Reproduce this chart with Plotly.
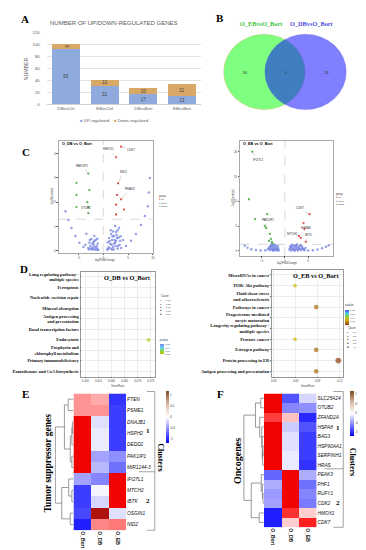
import plotly.graph_objects as go
import math

W, H = 366, 550
SANS = "Liberation Sans"
SERIF = "Liberation Serif"

# ---------------- Panel A data ----------------
comparisons = ["DBvsCtrl", "EBvsCtrl", "DBvsBort", "EBvsBort"]
up_regulated = [93, 31, 17, 13]
down_regulated = [8, 10, 10, 21]
a_yticks = [0, 20, 40, 60, 80, 100, 120]

# ---------------- Panel B data ----------------
venn_sets = ["O_EBvsO_Bort", "O_DBvsO_Bort"]
venn_only = [30, 23]
venn_shared = 4

# ---------------- Panel C data ----------------
pvalue_cutoff = 0.05
db_none_fc = [-3.0, -2.6, -2.2, -2.0, -1.8, -1.6, -2.4, -2.8, -1.4, -1.8, 1.0, 1.4, 1.8, 2.0, 2.2,
              2.4, 2.6, 2.8, 3.0, 3.2, 3.4, 1.6, 1.2, 3.6, 2.4, -7.6, -7.0, -6.4, -5.6, -4.8, -4.0,
              4.6, 5.6, 6.6, 7.6, 8.4, 9.0, 9.2, 9.4, -1.2, -1.0, 0.8, -3.4, -3.6, 4.0,
              -2.9, -2.5, -2.1, -1.7, -1.3, -1.1, -1.5, -2.3, -2.7, -1.9, -1.2, -2.0,
              1.1, 1.3, 1.5, 1.7, 1.9, 2.1, 2.3, 2.5, 2.7, 2.9, 3.1, 3.3, 1.5, 2.0, 2.9, 3.5, 0.9, 1.8, 2.2, 2.6]
db_none_nlp = [0.12, 0.20, 0.29, 0.08, 0.41, 0.16, 0.49, 0.33, 0.04, 0.61, 0.08, 0.29, 0.45, 0.16, 0.61,
               0.33, 0.78, 0.53, 0.20, 0.94, 0.41, 0.69, 0.53, 0.12, 1.02, 1.63, 1.27, 0.94, 0.61, 0.33, 0.16,
               0.20, 0.41, 0.69, 1.06, 1.43, 1.84, 2.40, 3.00, 0.10, 0.03, 0.05, 0.70, 0.25, 0.45,
               0.05, 0.10, 0.15, 0.05, 0.20, 0.30, 0.45, 0.05, 0.45, 0.25, 0.50, 0.35,
               0.15, 0.40, 0.10, 0.25, 0.60, 0.05, 0.45, 0.20, 0.65, 0.10, 0.55, 0.25, 0.85, 0.80, 0.85, 0.60, 0.35, 0.05, 0.30, 0.40]
db_up_fc = [3.6, 2.6, 3.0, 3.6, 2.6, 2.6, 2.8, 4.2]
db_up_nlp = [4.29, 3.85, 2.78, 2.12, 1.50, 1.90, 2.30, 1.70]
db_up_gene = ["CDK7", "HMOX1", "NID2", "PEAK3", "", "", "", ""]
db_down_fc = [-3.0, -3.0, -3.0, -3.2, -2.8, -5.4, -5.4, -5.4]
db_down_nlp = [3.18, 1.55, 1.80, 2.00, 2.50, 1.80, 2.30, 2.80]
db_down_gene = ["PAK1IP1", "OTUB2", "", "", "", "", "", ""]

eb_none_fc = [-8.6, -8.0, -7.2, -6.2, -5.2, -4.2, -3.4, -3.0, -2.8, -2.4, -2.2, -2.0, -1.8, -1.5, -1.3,
              -2.6, 1.0, 1.3, 1.6, 1.8, 2.0, 2.3, 2.6, 2.9, 3.2, 3.5, 3.8, 4.2, 5.0, 6.0, 7.0, 8.0, 8.8, 9.4,
              -3.6, -3.2, -3.0, -2.7, -2.5, -2.3, -2.1, -1.9, -1.7, -1.6, -1.4, -2.9, -2.4, -3.3,
              1.1, 1.4, 1.5, 1.7, 1.9, 2.1, 2.2, 2.4, 2.5, 2.7, 2.8, 3.0, 3.3, 3.4, 3.7, 4.0, 4.4, 1.2]
eb_none_nlp = [1.0, 0.6, 0.3, 0.15, 0.05, 0.1, 0.5, 1.0, 0.3, 0.7, 1.2, 0.2, 0.6, 0.9, 0.1,
               0.05, 0.2, 0.8, 0.4, 1.1, 0.1, 0.6, 1.25, 0.3, 0.9, 0.15, 0.5, 0.1, 0.05, 0.1, 0.25, 0.5, 0.8, 1.1,
               0.3, 0.15, 0.6, 0.9, 0.35, 0.05, 0.5, 1.0, 0.3, 0.05, 0.45, 1.3, 1.1, 0.8,
               0.5, 0.05, 1.2, 0.6, 0.25, 0.9, 0.05, 1.05, 0.35, 0.8, 0.05, 0.6, 0.35, 1.1, 0.8, 0.3, 0.55, 0.9]
eb_up_fc = [5.3, 4.0, 3.0, 4.5, 3.4, 4.2]
eb_up_nlp = [7.4, 5.6, 3.0, 1.8, 2.6, 4.4]
eb_up_gene = ["CDK7", "HSPA8", "MTCH2", "IBTK", "", ""]
eb_down_fc = [-7.0, -7.7, -6.4, -4.3, -3.8, -4.0, -3.2, -3.0, -2.8, -3.4, -2.6]
eb_down_nlp = [20.0, 10.4, 6.4, 5.0, 7.4, 4.6, 3.4, 2.4, 1.8, 2.0, 1.5]
eb_down_gene = ["IFI27L1", "", "", "PAK1IP1", "", "", "", "", "", "", ""]

# ---------------- Panel D data ----------------
d1_pathways = ["Long regulating pathway - multiple species", "Ferroptosis", "Nucleotide excision repair",
               "Mineral absorption", "Antigen processing and presentation", "Basal transcription factors",
               "Endocytosis", "Porphyrin and chlorophyll metabolism", "Primary immunodeficiency",
               "Pantothenate and CoA biosynthesis"]
d1_hit = ["Endocytosis"]
d1_ratio = [0.0741]
d1_count = [2]
d1_pvalue = [0.022]
d1_xticks = [0.050, 0.055, 0.060, 0.065, 0.070, 0.075]
d1_count_breaks = ["1.00", "1.25", "1.50", "1.75", "2.00"]

d2_pathways = ["MicroRNAs in cancer", "PI3K-Akt pathway", "Fluid shear stress and atherosclerosis",
               "Pathways in cancer", "Progesterone-mediated oocyte maturation",
               "Longevity regulating pathway - multiple species", "Prostate cancer", "Estrogen pathway",
               "Protein processing in ER", "Antigen processing and presentation"]
d2_hit = ["PI3K-Akt pathway", "Pathways in cancer", "Prostate cancer", "Estrogen pathway",
          "Protein processing in ER", "Antigen processing and presentation"]
d2_ratio = [0.059, 0.088, 0.059, 0.088, 0.118, 0.088]
d2_count = [2, 3, 2, 3, 4, 3]
d2_pvalue = [0.030, 0.012, 0.030, 0.012, 0.002, 0.012]
d2_xticks = [0.03, 0.06, 0.09, 0.12]
d2_count_breaks = ["2.0", "2.5", "3.0", "3.5", "4.0"]

# ---------------- Panel E / F data ----------------
heat_samples = ["O_Bort", "O_DB", "O_EB"]
tsg_genes = ["PTEN", "PSME1", "DNAJB1", "HSPH2", "DEDD2", "PAK1IP1", "MIR1244-3",
             "IFI27L1", "MTCH2", "IBTK", "OSGIN1", "NID2"]
tsg_values = [[0.45, 0.35, -1.00], [0.45, 0.45, -0.95], [1.08, -0.15, -0.95], [1.08, -0.10, -0.95],
              [1.08, -0.10, -0.95], [1.08, -0.45, -0.55], [1.08, -0.35, -0.70], [-0.45, -0.60, 1.08],
              [-0.95, -0.05, 1.08], [-0.95, -0.20, 1.08], [-0.90, 1.22, -0.15], [-1.10, 0.50, 0.55]]
tsg_links = [(2, 3, 1.0), (12, 4, 1.5), (5, 6, 1.5), (13, 14, 3.0), (0, 1, 5.0), (16, 15, 8.5),
             (8, 9, 1.5), (7, 18, 4.5), (10, 11, 3.0), (19, 20, 11.0), (17, 21, 17.0)]
tsg_clusters = ["1", "2"]

onc_genes = ["SLC25A24", "OTUB2", "ZFAND2A", "HSPA8", "BAG3", "HSP90AA1", "SERPINH1", "HRAS",
             "PEAK3", "PHF1", "RUFY1", "CDK2", "HMOX1", "CDK7"]
onc_values = [[1.08, -0.85, -0.20], [1.08, -0.60, -0.55], [0.80, 0.25, -1.05], [1.08, -0.25, -0.85],
              [1.08, -0.15, -0.95], [1.08, -0.15, -0.95], [1.08, -0.10, -0.95], [1.08, -0.10, -1.00],
              [-0.75, 1.08, -0.40], [-0.40, 1.08, -0.70], [-0.50, 1.08, -0.60], [-0.45, 1.08, -0.65],
              [-1.10, 0.85, 0.20], [-1.10, 0.20, 0.92]]
onc_links = [(5, 6, 0.8), (14, 7, 1.2), (4, 15, 1.6), (3, 16, 2.0), (0, 1, 3.0), (2, 17, 4.0),
             (18, 19, 8.0), (10, 11, 0.8), (9, 21, 1.4), (8, 22, 2.5), (12, 13, 4.5), (23, 24, 12.0),
             (20, 25, 19.0)]
onc_clusters = ["1", "2"]
heat_ticks = [-1, -0.5, 0, 0.5, 1]

# ---------------- helpers ----------------
def xdom(a, b):
    return [a / W, b / W]

def ydom(top, bottom):
    return [1 - bottom / H, 1 - top / H]

annotations = []
shapes = []

def ann(x, y, text, size, color="#000", family=SANS, xanchor="center", yanchor="middle",
        angle=0, weight="normal", style="normal"):
    annotations.append(dict(x=x / W, y=1 - y / H, xref="paper", yref="paper", text=text,
                            showarrow=False, xanchor=xanchor, yanchor=yanchor, textangle=angle,
                            font=dict(size=size, color=color, family=family, weight=weight, style=style)))

def pline(x0, y0, x1, y1, color="#666", width=0.6):
    shapes.append(dict(type="line", xref="paper", yref="paper", x0=x0 / W, x1=x1 / W,
                       y0=1 - y0 / H, y1=1 - y1 / H, line=dict(color=color, width=width)))

def dendro_lines(n, links):
    pos = {i: float(i) for i in range(n)}
    hgt = {i: 0.0 for i in range(n)}
    xs, ys = [], []
    for k, (a, b, h) in enumerate(links):
        node = n + k
        xs += [hgt[a], h, h, hgt[b], None]
        ys += [pos[a], pos[a], pos[b], pos[b], None]
        pos[node] = (pos[a] + pos[b]) / 2
        hgt[node] = h
    return xs, ys

fig = go.Figure()
axes = {}

# ---------------- Panel A ----------------
UP_C, DOWN_C = "#8FAADC", "#D9A867"
fig.add_trace(go.Bar(x=comparisons, y=up_regulated, marker=dict(color=UP_C, line=dict(width=0)),
                     text=up_regulated, textposition="inside", insidetextanchor="middle",
                     textfont=dict(size=4.5, color="#404040", family=SANS),
                     xaxis="x", yaxis="y", showlegend=False, hoverinfo="skip"))
fig.add_trace(go.Bar(x=comparisons, y=down_regulated, marker=dict(color=DOWN_C, line=dict(width=0)),
                     text=down_regulated, textposition="inside", insidetextanchor="middle",
                     textfont=dict(size=4.5, color="#404040", family=SANS),
                     xaxis="x", yaxis="y", showlegend=False, hoverinfo="skip"))
axes["xaxis"] = dict(domain=xdom(38, 194), anchor="y", type="category", showline=True,
                     linecolor="#d0d0d0", linewidth=0.7, ticks="", showgrid=False,
                     tickfont=dict(size=4.3, color="#595959", family=SANS))
axes["yaxis"] = dict(domain=ydom(23, 95), anchor="x", range=[0, 120], tickvals=a_yticks,
                     gridcolor="#e2e2e2", gridwidth=0.5, zeroline=False, showline=False, ticks="",
                     ticklabelstandoff=6, tickfont=dict(size=4.3, color="#595959", family=SANS))
ann(106, 13, "NUMBER OF UP/DOWN-REGULATED GENES", 6, color="#595959")
ann(18, 59, "NUMBER", 5.2, color="#595959", angle=-90)
ann(106, 112, "<span style='color:%s'>■</span> UP-regulated&nbsp;&nbsp;&nbsp;&nbsp;"
              "<span style='color:%s'>■</span> Down-regulated" % (UP_C, DOWN_C), 4.3, color="#595959")

# ---------------- Panel B ----------------
venn_c = [(52.5, 47.5), (94.0, 47.5)]
venn_r = (41, 38)
shapes.append(dict(type="circle", xref="x2", yref="y2", x0=venn_c[0][0] - venn_r[0], x1=venn_c[0][0] + venn_r[0],
                   y0=venn_c[0][1] - venn_r[1], y1=venn_c[0][1] + venn_r[1], fillcolor="rgba(0,255,0,0.5)",
                   line=dict(color="rgba(210,170,90,0.7)", width=0.5), layer="below"))
shapes.append(dict(type="circle", xref="x2", yref="y2", x0=venn_c[1][0] - venn_r[0], x1=venn_c[1][0] + venn_r[0],
                   y0=venn_c[1][1] - venn_r[1], y1=venn_c[1][1] + venn_r[1], fillcolor="rgba(0,0,255,0.5)",
                   line=dict(color="rgba(90,90,230,0.7)", width=0.5), layer="below"))
fig.add_trace(go.Scatter(x=[33, 74, 115], y=[46, 46, 46], mode="text",
                         text=[str(venn_only[0]), str(venn_shared), str(venn_only[1])],
                         textfont=dict(size=4, color="#333", family=SANS),
                         xaxis="x2", yaxis="y2", showlegend=False, hoverinfo="skip"))
axes["xaxis2"] = dict(domain=xdom(205, 355), anchor="y2", range=[0, 150], visible=False)
axes["yaxis2"] = dict(domain=ydom(15, 110), anchor="x2", range=[0, 95], visible=False)
ann(255, 14, venn_sets[0], 6.3, color="#3cc23c", family=SERIF, weight="bold")
ann(306, 14, venn_sets[1], 6.3, color="#4a4ae0", family=SERIF, weight="bold")

# ---------------- Panel C ----------------
nlp_cut = -math.log10(pvalue_cutoff)
C_UP, C_NONE, C_DOWN = "#e41a1c", "#6677dd", "#33a02c"

def volcano(xa, ya, none_fc, none_nlp, up_fc, up_nlp, up_gene, dn_fc, dn_nlp, dn_gene, offsets):
    fig.add_trace(go.Scatter(x=none_fc, y=none_nlp, mode="markers",
                             marker=dict(size=2.5, color=C_NONE, opacity=0.7, line=dict(width=0)),
                             xaxis=xa, yaxis=ya, showlegend=False, hoverinfo="skip"))
    fig.add_trace(go.Scatter(x=up_fc, y=up_nlp, mode="markers",
                             marker=dict(size=2.3, color=C_UP, opacity=0.8, line=dict(width=0)),
                             xaxis=xa, yaxis=ya, showlegend=False, hoverinfo="skip"))
    fig.add_trace(go.Scatter(x=dn_fc, y=dn_nlp, mode="markers",
                             marker=dict(size=2.3, color=C_DOWN, opacity=0.8, line=dict(width=0)),
                             xaxis=xa, yaxis=ya, showlegend=False, hoverinfo="skip"))
    for fcs, nlps, genes in ((up_fc, up_nlp, up_gene), (dn_fc, dn_nlp, dn_gene)):
        for fc, nl, g in zip(fcs, nlps, genes):
            if g:
                ax, ay = offsets[g]
                annotations.append(dict(x=fc, y=nl, xref=xa, yref=ya, text=g, showarrow=True,
                                        arrowhead=0, arrowwidth=0.4, arrowcolor="#999", ax=ax, ay=ay,
                                        standoff=0, font=dict(size=3, color="#333", family=SANS)))
    shapes.append(dict(type="line", xref=xa, yref=ya + " domain", x0=0, x1=0, y0=0, y1=1,
                       line=dict(color="#999", width=0.4, dash="dash")))
    shapes.append(dict(type="line", xref=xa + " domain", yref=ya, x0=0, x1=1, y0=nlp_cut, y1=nlp_cut,
                       line=dict(color="#999", width=0.4, dash="dash")))

volcano("x3", "y3", db_none_fc, db_none_nlp, db_up_fc, db_up_nlp, db_up_gene,
        db_down_fc, db_down_nlp, db_down_gene,
        {"CDK7": (10, 3), "HMOX1": (-8, -8), "NID2": (5, -11), "PEAK3": (9, -10),
         "PAK1IP1": (-6, -8), "OTUB2": (-2, -5)})
volcano("x4", "y4", eb_none_fc, eb_none_nlp, eb_up_fc, eb_up_nlp, eb_up_gene,
        eb_down_fc, eb_down_nlp, eb_down_gene,
        {"CDK7": (-10, -6), "HSPA8": (3, 5), "MTCH2": (-6, -2), "IBTK": (3, -7),
         "IFI27L1": (6, 8), "PAK1IP1": (3, -6)})

vol_ax = dict(ticks="outside", ticklen=1.5, tickwidth=0.4, tickcolor="#555",
              tickfont=dict(size=3, color="#444", family=SANS), showline=True, mirror=True,
              linecolor="#aaa", linewidth=0.5, showgrid=False, zeroline=False, ticklabelstandoff=0)
axes["xaxis3"] = dict(domain=xdom(50, 145), anchor="y3", range=[-9, 10], tickvals=[-5, 0, 5, 10], **vol_ax)
axes["yaxis3"] = dict(domain=ydom(132, 245), anchor="x3", range=[-0.08, 4.53], tickvals=[0, 1, 2, 3, 4], **vol_ax)
axes["xaxis4"] = dict(domain=xdom(233, 327), anchor="y4", range=[-9.6, 10.4], tickvals=[-5, 0, 5], **vol_ax)
axes["yaxis4"] = dict(domain=ydom(132, 248), anchor="x4", range=[-1.0, 22.2], tickvals=[0, 5, 10, 15, 20], **vol_ax)

ann(51, 135, "O_DB vs O_Bort", 3.8, xanchor="left", weight="bold")
ann(234, 135, "O_EB vs O_Bort", 3.8, xanchor="left", weight="bold")
ann(97, 252.5, "log2FoldChange", 2.7, color="#444")
ann(280, 255.5, "log2FoldChange", 2.7, color="#444")
ann(44, 188, "-log10(pvalue)", 2.7, color="#444", angle=-90)
ann(226, 190, "-log10(pvalue)", 2.7, color="#444", angle=-90)
for lx, ly in ((149, 188), (328, 186)):
    ann(lx, ly, "group", 2.6, xanchor="left", color="#333")
    ann(lx, ly + 3.6, "<span style='color:%s'>●</span> up" % C_UP, 2.5, xanchor="left", color="#333")
    ann(lx, ly + 7.0, "<span style='color:%s'>●</span> none" % C_NONE, 2.5, xanchor="left", color="#333")
    ann(lx, ly + 10.4, "<span style='color:%s'>●</span> down" % C_DOWN, 2.5, xanchor="left", color="#333")

# ---------------- Panel D ----------------
wrap = {"Long regulating pathway - multiple species": "Long regulating pathway -<br>multiple species",
        "Longevity regulating pathway - multiple species": "Longevity regulating pathway -<br>multiple species",
        "Antigen processing and presentation": "Antigen processing<br>and presentation",
        "Porphyrin and chlorophyll metabolism": "Porphyrin and<br>chlorophyll metabolism",
        "Fluid shear stress and atherosclerosis": "Fluid shear stress<br>and atherosclerosis",
        "Progesterone-mediated oocyte maturation": "Progesterone-mediated<br>oocyte maturation"}
d2_wrap = dict(wrap)
d2_wrap.pop("Antigen processing and presentation")
d1_scale = [[0, "#c2c400"], [0.35, "#7fd657"], [0.65, "#62d2f4"], [1, "#8a7cf5"]]
d2_scale = [[0, "#8b3a0f"], [0.35, "#d8b412"], [0.6, "#7fd34e"], [0.8, "#40c4f0"], [1, "#4a4aff"]]

def dsize(c):
    return 2.0 + 0.9 * c

fig.add_trace(go.Scatter(x=d1_ratio, y=d1_hit, mode="markers",
                         marker=dict(size=[dsize(c) for c in d1_count], color=d1_pvalue, colorscale=d1_scale,
                                     cmin=0.02, cmax=0.05, showscale=True, line=dict(width=0),
                                     colorbar=dict(x=152 / W, xanchor="left", y=1 - 338 / H, yanchor="middle",
                                                   len=19, lenmode="pixels", thickness=4, thicknessmode="pixels",
                                                   xpad=0, ypad=0, outlinewidth=0, ticks="", nticks=4,
                                                   title=dict(text="pvalue", side="top", font=dict(size=2.8)),
                                                   tickfont=dict(size=2.5))),
                         xaxis="x5", yaxis="y5", showlegend=False, hoverinfo="skip"))
fig.add_trace(go.Scatter(x=d2_ratio, y=d2_hit, mode="markers",
                         marker=dict(size=[dsize(c) for c in d2_count], color=d2_pvalue, colorscale=d2_scale,
                                     cmin=0.001, cmax=0.08, showscale=True, line=dict(width=0),
                                     colorbar=dict(x=339 / W, xanchor="left", y=1 - 306 / H, yanchor="middle",
                                                   len=24, lenmode="pixels", thickness=4, thicknessmode="pixels",
                                                   xpad=0, ypad=0, outlinewidth=0, ticks="", nticks=5,
                                                   title=dict(text="pvalue", side="top", font=dict(size=2.8)),
                                                   tickfont=dict(size=2.5))),
                         xaxis="x6", yaxis="y6", showlegend=False, hoverinfo="skip"))

dot_ax = dict(showline=True, mirror=True, linecolor="#999", linewidth=0.5, gridcolor="#ececec",
              gridwidth=0.4, zeroline=False, ticks="outside", ticklen=1, tickwidth=0.4, tickcolor="#666")
axes["xaxis5"] = dict(domain=xdom(73, 147), anchor="y5", range=[0.0485, 0.0765], tickvals=d1_xticks,
                      ticktext=["%.3f" % v for v in d1_xticks], tickfont=dict(size=2.8, color="#444"), **dot_ax)
axes["yaxis5"] = dict(domain=ydom(264, 370), anchor="x5", type="category", categoryorder="array",
                      categoryarray=d1_pathways[::-1], range=[-0.5, 9.5], tickvals=d1_pathways,
                      ticktext=[wrap.get(p, p) for p in d1_pathways],
                      tickfont=dict(size=4.4, color="#111", family=SERIF, weight="bold"), **dot_ax)
axes["xaxis6"] = dict(domain=xdom(265, 337), anchor="y6", range=[0.0275, 0.1248], tickvals=d2_xticks,
                      ticktext=["%.2f" % v for v in d2_xticks], tickfont=dict(size=2.8, color="#444"), **dot_ax)
axes["yaxis6"] = dict(domain=ydom(262, 370), anchor="x6", type="category", categoryorder="array",
                      categoryarray=d2_pathways[::-1], range=[-0.5, 9.5], tickvals=d2_pathways,
                      ticktext=[d2_wrap.get(p, p) for p in d2_pathways],
                      tickfont=dict(size=4.4, color="#111", family=SERIF, weight="bold"), **dot_ax)
ann(145, 270, "O_DB vs O_Bort", 6.3, xanchor="right", family=SERIF, weight="bold")
ann(335, 268, "O_EB vs O_Bort", 6.3, xanchor="right", family=SERIF, weight="bold")
ann(110, 379, "GeneRatio", 2.8, color="#444")
ann(301, 379, "GeneRatio", 2.8, color="#444")

def count_legend(x, y, labels, sizes, step):
    ann(x, y, "Count", 2.8, xanchor="left", color="#333")
    for i, (lab, s) in enumerate(zip(labels, sizes)):
        ann(x + 2, y + 4 + i * step, "●", s, color="#111")
        ann(x + 5, y + 4 + i * step, lab, 2.3, xanchor="left", color="#333")

count_legend(151, 289, d1_count_breaks, [1.8, 2.1, 2.4, 2.7, 3.0], 3.5)
count_legend(340, 321, d2_count_breaks, [2.0, 2.3, 2.6, 2.9, 3.2], 3.8)

# ---------------- Panel E / F ----------------
heat_scale = [[0, "#0000ff"], [0.5, "#ffffff"], [0.92, "#ff0000"], [1, "#a0150f"]]
bar_scale = [[0, "#0000ff"], [0.5, "#ffffff"], [0.75, "#dcb8a6"], [1, "#7a4a1e"]]

def heat_block(xa, ya, xd, genes, values, links, cb_x, cb_y, cb_len, cb_thick, dom_x, dom_y, d_dom_x):
    yd = "y" + xd[1:]
    xs, ys = dendro_lines(len(genes), links)
    fig.add_trace(go.Scatter(x=xs, y=ys, mode="lines", line=dict(color="#707070", width=0.7),
                             connectgaps=False, xaxis=xd, yaxis=yd, showlegend=False, hoverinfo="skip"))
    fig.add_trace(go.Heatmap(z=values, x=heat_samples, y=genes, colorscale=heat_scale, zmin=-1.25, zmax=1.25,
                             showscale=False, xaxis=xa, yaxis=ya, hoverinfo="skip"))
    fig.add_trace(go.Scatter(x=[None], y=[None], mode="markers",
                             marker=dict(color=[0], colorscale=bar_scale, cmin=-1.18, cmax=1.18, showscale=True,
                                         colorbar=dict(x=cb_x / W, xanchor="left", y=1 - cb_y / H,
                                                       yanchor="middle", len=cb_len, lenmode="pixels",
                                                       thickness=cb_thick, thicknessmode="pixels", xpad=0,
                                                       ypad=0, outlinewidth=0, ticks="", tickvals=heat_ticks,
                                                       ticktext=[("%g" % v) for v in heat_ticks],
                                                       tickfont=dict(size=3, color="#333"))),
                             xaxis=xa, yaxis=ya, showlegend=False, hoverinfo="skip"))
    root = links[-1][2]
    axes["xaxis" + xa[1:]] = dict(domain=dom_x, anchor=ya, type="category", tickangle=90, ticks="",
                                  showgrid=False, zeroline=False,
                                  tickfont=dict(size=5, color="#111", family=SANS, weight="bold"))
    axes["yaxis" + ya[1:]] = dict(domain=dom_y, anchor=xa, autorange="reversed", side="right", ticks="",
                                  showgrid=False, zeroline=False,
                                  tickfont=dict(size=4.8, color="#111", family=SANS, style="italic"))
    axes["xaxis" + xd[1:]] = dict(domain=d_dom_x, anchor=yd, range=[root * 1.04, 0], showgrid=False,
                                  zeroline=False, showline=False, showticklabels=False, ticks="")
    axes["yaxis" + xd[1:]] = dict(domain=dom_y, anchor=xd, range=[len(genes) - 0.5, -0.5], showgrid=False,
                                  zeroline=False, showline=False, showticklabels=False, ticks="")

heat_block("x7", "y7", "x8", tsg_genes, tsg_values, tsg_links, 158, 411, 52, 3,
           xdom(65, 118), ydom(387, 525), xdom(46, 65))
heat_block("x9", "y9", "x10", onc_genes, onc_values, onc_links, 344, 407, 45, 4,
           xdom(257, 310), ydom(387, 522), xdom(236, 257))

# cluster brackets
pline(147, 385, 147, 525); pline(139, 385, 147, 385); pline(131, 466, 147, 466); pline(139, 525, 147, 525)
pline(337, 385, 337, 522); pline(327, 385, 337, 385); pline(318, 463, 337, 463); pline(327, 522, 337, 522)
ann(140, 425, tsg_clusters[0], 7, family=SERIF, weight="bold")
ann(140, 495, tsg_clusters[1], 7, family=SERIF, weight="bold")
ann(332, 422, onc_clusters[0], 7, family=SERIF, weight="bold")
ann(332, 498, onc_clusters[1], 7, family=SERIF, weight="bold")
ann(152, 451, "Clusters", 8, family=SERIF, weight="bold", angle=90)
ann(346, 456, "Clusters", 8, family=SERIF, weight="bold", angle=90)
ann(39, 457, "Tumor suppressor genes", 9.5, family=SERIF, weight="bold", angle=-90)
ann(231, 455, "Oncogenes", 10, family=SERIF, weight="bold", angle=-90)

# panel letters
for letter, lx, ly in (("A", 16, 9), ("B", 213, 8), ("C", 17, 143), ("D", 15, 261), ("E", 17, 388), ("F", 213, 388)):
    ann(lx, ly, letter, 11, family=SERIF, weight="bold")

fig.update_layout(width=W, height=H, margin=dict(l=0, r=0, t=0, b=0, pad=0),
                  paper_bgcolor="white", plot_bgcolor="white", barmode="stack", bargap=0.28,
                  uniformtext=dict(minsize=4.5, mode="show"), showlegend=False,
                  font=dict(family=SANS), annotations=annotations, shapes=shapes, **axes)
fig.write_html("out.html")
